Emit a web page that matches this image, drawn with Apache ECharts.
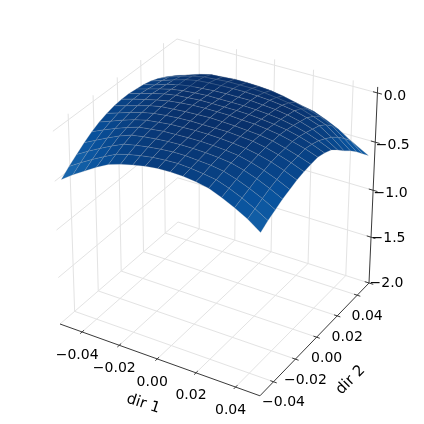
<!DOCTYPE html>
<html>
<head>
<meta charset="utf-8">
<style>html,body{margin:0;padding:0;background:#fff}#main{width:424px;height:424px}</style>
<script src="https://cdn.jsdelivr.net/npm/echarts@6/dist/echarts.min.js"></script>
</head>
<body>
<div id="main"></div>
<script>
// tick labels of the three axes
const dir1Ticks = [-0.04, -0.02, 0, 0.02, 0.04];
const dir2Ticks = [-0.04, -0.02, 0, 0.02, 0.04];
const zTicks = [0, -0.5, -1, -1.5, -2];
const zLabelShift = [3, 3, 3, 1, 0];

// mesh positions along dir 1 and dir 2
const dir1Values = [-0.05, -0.04375, -0.0375, -0.03125, -0.025, -0.01875, -0.0125, -0.00625, 0, 0.00625, 0.0125, 0.01875, 0.025, 0.03125, 0.0375, 0.04375, 0.05];
const dir2Values = [-0.05, -0.04375, -0.0375, -0.03125, -0.025, -0.01875, -0.0125, -0.00625, 0, 0.00625, 0.0125, 0.01875, 0.025, 0.03125, 0.0375, 0.04375, 0.05];

// surface height, one row per dir 2 value
const surfaceZ = [
  [-.49, -.405, -.33, -.255, -.19, -.15, -.12, -.095, -.08, -.075, -.08, -.095, -.12, -.17, -.23, -.30, -.39],
  [-.42, -.345, -.275, -.21, -.15, -.115, -.09, -.07, -.06, -.055, -.065, -.08, -.10, -.145, -.20, -.265, -.34],
  [-.36, -.29, -.225, -.165, -.11, -.085, -.065, -.05, -.04, -.04, -.05, -.06, -.08, -.12, -.17, -.23, -.30],
  [-.30, -.24, -.18, -.125, -.08, -.06, -.045, -.035, -.03, -.03, -.035, -.045, -.06, -.095, -.14, -.195, -.26],
  [-.25, -.195, -.145, -.10, -.06, -.045, -.03, -.025, -.02, -.02, -.025, -.035, -.05, -.08, -.12, -.17, -.23],
  [-.21, -.165, -.12, -.08, -.05, -.035, -.02, -.015, -.01, -.01, -.015, -.025, -.04, -.065, -.10, -.145, -.20],
  [-.18, -.14, -.10, -.065, -.04, -.025, -.015, -.01, -.01, -.01, -.01, -.02, -.03, -.055, -.09, -.13, -.18],
  [-.16, -.125, -.09, -.055, -.03, -.02, -.01, -.005, 0, -.005, -.01, -.02, -.03, -.05, -.085, -.125, -.17],
  [-.15, -.115, -.085, -.055, -.03, -.015, -.005, 0, 0, 0, -.01, -.015, -.03, -.05, -.08, -.115, -.16],
  [-.15, -.115, -.08, -.05, -.03, -.02, -.01, -.01, -.01, -.01, -.015, -.025, -.04, -.06, -.09, -.13, -.18],
  [-.16, -.125, -.09, -.06, -.04, -.03, -.02, -.02, -.02, -.02, -.025, -.035, -.05, -.075, -.11, -.155, -.21],
  [-.17, -.14, -.10, -.07, -.05, -.04, -.03, -.025, -.025, -.025, -.035, -.045, -.065, -.095, -.135, -.195, -.27],
  [-.19, -.15, -.11, -.075, -.05, -.04, -.035, -.03, -.03, -.035, -.045, -.06, -.08, -.115, -.16, -.24, -.34],
  [-.22, -.17, -.13, -.095, -.07, -.06, -.05, -.05, -.05, -.06, -.075, -.095, -.12, -.16, -.21, -.30, -.40],
  [-.26, -.21, -.17, -.13, -.10, -.09, -.08, -.08, -.085, -.095, -.115, -.145, -.18, -.22, -.28, -.37, -.47],
  [-.36, -.31, -.27, -.23, -.19, -.18, -.18, -.18, -.19, -.20, -.215, -.235, -.26, -.31, -.37, -.45, -.55],
  [-.50, -.45, -.40, -.37, -.34, -.33, -.33, -.33, -.33, -.34, -.36, -.38, -.40, -.44, -.49, -.56, -.63]
];

// axis limits
const dirLim = 0.0521;
const zBottom = -2;
const zTop = 0.06;

// camera: images of the back floor corner and its three edges, plus perspective factors
const P0 = [178, 222], PU = [60, 324], PV = [369, 283], PW = [177, 39];
const A = 0.928, B = 0.95, C = 0.955;

function project(x, y, z) {
    let u = (dirLim - y) / (2 * dirLim);
    let v = (x + dirLim) / (2 * dirLim);
    let w = (z - zBottom) / 2;
    let d = 1 + (A - 1) * u + (B - 1) * v + (C - 1) * w;
    return [0, 1].map(k => (P0[k] + u * (A * PU[k] - P0[k]) + v * (B * PV[k] - P0[k]) + w * (C * PW[k] - P0[k])) / d);
}

function depth(x, y, z) {
    let u = (dirLim - y) / (2 * dirLim);
    let v = (x + dirLim) / (2 * dirLim);
    let w = (z - zBottom) / 2;
    return 1 + (A - 1) * u + (B - 1) * v + (C - 1) * w;
}

// Blues_r colour stops, top of the surface is darkest, lighter towards the front and side edges
const blues = [[8, 48, 107], [8, 81, 156], [33, 113, 181]];
function surfaceColor(x, y, z) {
    let u = (dirLim - y) / (2 * dirLim);
    let v = (x + dirLim) / (2 * dirLim);
    let t = -z / 0.35 + 0.7 * (u - 0.5) + 0.6 * Math.abs(v - 0.5) - 0.15;
    t = Math.min(Math.max(t, 0), 1.8);
    let i = Math.floor(t), f = t - i;
    let c = blues[i].map((b, k) => Math.round(b + (blues[i + 1][k] - b) * f));
    return 'rgb(' + c.join(',') + ')';
}

// grid lines on floor and the two back walls
let gridSegs = [];
dir1Ticks.forEach(x => {
    gridSegs.push([x, -dirLim, zBottom, x, dirLim, zBottom]);
    gridSegs.push([x, dirLim, zBottom, x, dirLim, zTop]);
});
dir2Ticks.forEach(y => {
    gridSegs.push([-dirLim, y, zBottom, dirLim, y, zBottom]);
    gridSegs.push([-dirLim, y, zBottom, -dirLim, y, zTop]);
});
zTicks.forEach(z => {
    gridSegs.push([-dirLim, -dirLim, z, -dirLim, dirLim, z]);
    gridSegs.push([-dirLim, dirLim, z, dirLim, dirLim, z]);
});

// axis lines and tick marks
const tk = 0.0016, tz = 0.0022;
let axisSegs = [
    [-dirLim, -dirLim, zBottom, dirLim, -dirLim, zBottom],
    [dirLim, -dirLim, zBottom, dirLim, dirLim, zBottom],
    [dirLim, dirLim, zBottom, dirLim, dirLim, zTop]
];
dir1Ticks.forEach(x => axisSegs.push([x, -dirLim + tk, zBottom, x, -dirLim - tk, zBottom]));
dir2Ticks.forEach(y => axisSegs.push([dirLim - tk, y, zBottom, dirLim + tk, y, zBottom]));
zTicks.forEach(z => axisSegs.push([dirLim - tz, dirLim, z, dirLim + tz, dirLim, z]));

// surface cells, far ones drawn first
let cells = [];
for (let r = 0; r < dir2Values.length - 1; r++) {
    for (let c = 0; c < dir1Values.length - 1; c++) {
        let zm = (surfaceZ[r][c] + surfaceZ[r][c + 1] + surfaceZ[r + 1][c] + surfaceZ[r + 1][c + 1]) / 4;
        let xm = (dir1Values[c] + dir1Values[c + 1]) / 2, ym = (dir2Values[r] + dir2Values[r + 1]) / 2;
        cells.push([r, c, zm, depth(xm, ym, zm), xm, ym]);
    }
}
cells.sort((a, b) => b[3] - a[3]);

function fmt(v, digits) {
    return v.toFixed(digits).replace('-', '\u2212');
}

// labels: anchor in 3D plus pixel offset
let labels = [];
dir1Ticks.forEach(x => labels.push([x, -dirLim, zBottom, -5, 23, fmt(x, 2), 0, 14]));
dir2Ticks.forEach(y => labels.push([dirLim, y, zBottom, 10, 21, fmt(y, 2), 0, 14]));
zTicks.forEach((z, i) => labels.push([dirLim, dirLim, z, 17.5, zLabelShift[i], fmt(z, 1), 0, 14]));
labels.push([0, -dirLim, zBottom, -14, 45, 'dir 1', -18, 15]);
labels.push([dirLim, 0, zBottom, 34, 43, 'dir 2', 45, 15]);

function segSeries(data, color, width, zl) {
    return {
        type: 'custom', coordinateSystem: 'cartesian2d', silent: true, z: zl, clip: false,
        data: data,
        encode: {x: [0], y: [1]},
        renderItem: (params, api) => {
            let s = data[params.dataIndex];
            let a = api.coord(project(s[0], s[1], s[2]));
            let b = api.coord(project(s[3], s[4], s[5]));
            return {
                type: 'line',
                shape: {x1: a[0], y1: a[1], x2: b[0], y2: b[1]},
                style: {stroke: color, lineWidth: width, fill: null}
            };
        }
    };
}

let myChart = echarts.init(document.getElementById('main'));
myChart.setOption({
    animation: false,
    backgroundColor: '#fff',
    grid: {left: 0, right: 0, top: 0, bottom: 0},
    xAxis: {type: 'value', min: 0, max: 424, show: false},
    yAxis: {type: 'value', min: 0, max: 424, inverse: true, show: false},
    series: [
        segSeries(gridSegs, '#e3e3e3', 1, 1),
        {
            type: 'custom', coordinateSystem: 'cartesian2d', silent: true, z: 2, clip: false,
            data: cells,
            renderItem: (params, api) => {
                let cell = cells[params.dataIndex], r = cell[0], c = cell[1];
                let corners = [[r, c], [r, c + 1], [r + 1, c + 1], [r + 1, c]];
                let pts = corners.map(q => api.coord(project(dir1Values[q[1]], dir2Values[q[0]], surfaceZ[q[0]][q[1]])));
                return {
                    type: 'polygon',
                    shape: {points: pts},
                    style: {fill: surfaceColor(cell[4], cell[5], cell[2]), stroke: 'rgba(150,160,175,0.38)', lineWidth: 0.6}
                };
            }
        },
        segSeries(axisSegs, '#3a3a3a', 1, 3),
        {
            type: 'custom', coordinateSystem: 'cartesian2d', silent: true, z: 4, clip: false,
            data: labels,
            renderItem: (params, api) => {
                let l = labels[params.dataIndex];
                let p = api.coord(project(l[0], l[1], l[2]));
                return {
                    type: 'text',
                    x: p[0] + l[3], y: p[1] + l[4],
                    rotation: l[6] * Math.PI / 180,
                    style: {text: l[5], fill: '#000', font: l[7] + 'px "DejaVu Sans"', align: 'center', verticalAlign: 'middle'}
                };
            }
        }
    ]
});
</script>
</body>
</html>
